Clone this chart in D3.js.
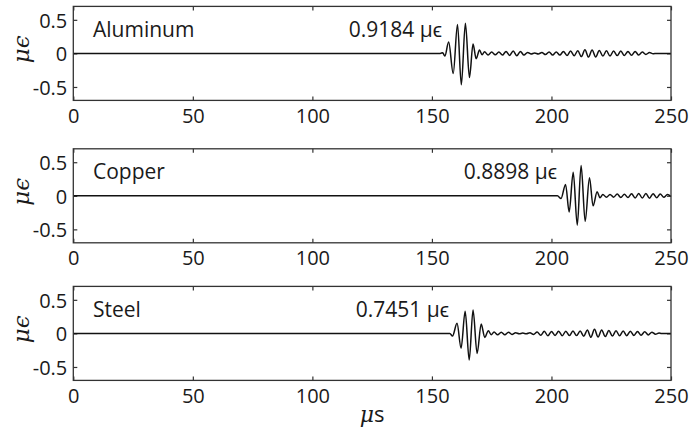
<!DOCTYPE html>
<html>
<head>
<meta charset="utf-8">
<script src="https://cdn.jsdelivr.net/npm/d3@7"></script>
<style>
  html, body { margin: 0; padding: 0; background: #fff; }
  svg { display: block; }
  .tick text { font-family: "Open Sans", sans-serif; font-size: 20px; fill: #1a1a1a; }
</style>
</head>
<body>
<svg id="chart" width="695" height="435"></svg>
<script>
// Axis ticks
const timeTicks = [0, 50, 100, 150, 200, 250];
const strainTicks = [-0.5, 0, 0.5];

// Panel names and measured peak-to-peak strain (µϵ)
const materials = ["Aluminum", "Copper", "Steel"];
const peakToPeak = [0.9184, 0.8898, 0.7451];

// Strain traces: [time µs, strain µϵ]
const aluminumTrace = [
  [0, 0], [153.5, 0], [154.5, 0.01], [155.4, -0.04], [157.0, 0.17], [158.9, -0.30],
  [160.7, 0.43], [162.3, -0.4684], [164.0, 0.45], [165.7, -0.36], [167.2, 0.14],
  [168.5, -0.08], [169.9, 0.05], [171.0, -0.02],
  [172.0, 0.025], [173.5, -0.025], [175.0, 0.02], [176.5, -0.02], [178.0, 0.02],
  [179.5, -0.025], [181.0, 0.03], [182.5, -0.03], [184.0, 0.035], [185.5, -0.035],
  [187.0, 0.03], [188.5, -0.025], [190.0, 0.015], [191.5, -0.008], [193.0, 0.006],
  [194.5, -0.008], [196.0, 0.012], [197.5, -0.018], [199.0, 0.022], [200.5, -0.025],
  [202.0, 0.022], [203.5, -0.025], [205.0, 0.03], [206.5, -0.032], [208.0, 0.035],
  [209.5, -0.035], [211.0, 0.04], [212.5, -0.048], [214.0, 0.055], [215.5, -0.055],
  [217.0, 0.05], [218.5, -0.052], [220.0, 0.045], [221.5, -0.04], [223.0, 0.038],
  [224.5, -0.04], [226.0, 0.036], [227.5, -0.033], [229.0, 0.035], [230.5, -0.032],
  [232.0, 0.03], [233.5, -0.028], [235.0, 0.03], [236.5, -0.025], [238.0, 0.02],
  [239.5, -0.015], [241.0, 0.012], [242.5, -0.006], [244, 0], [250, 0]
];

const copperTrace = [
  [0, 0], [202.5, 0], [204.0, -0.04], [205.9, 0.17], [207.4, -0.24], [209.1, 0.35],
  [210.8, -0.4378], [212.4, 0.452], [214.1, -0.38], [215.9, 0.27], [217.4, -0.15],
  [219.1, 0.06], [220.3, -0.03],
  [221.5, 0.02], [223.0, -0.022], [224.5, 0.02], [226.0, -0.02], [227.5, 0.025],
  [229.0, -0.025], [230.5, 0.022], [232.0, -0.025], [233.5, 0.03], [235.0, -0.033],
  [236.5, 0.035], [238.0, -0.033], [239.5, 0.035], [241.0, -0.035], [242.5, 0.032],
  [244.0, -0.03], [245.5, 0.028], [247.0, -0.022], [248.5, 0.018], [250, -0.01]
];

const steelTrace = [
  [0, 0], [157.5, 0], [158.6, -0.04], [160.5, 0.15], [162.2, -0.22], [163.9, 0.33],
  [165.6, -0.3951], [167.2, 0.35], [168.9, -0.30], [170.6, 0.14], [172.1, -0.06],
  [173.6, 0.04], [174.8, -0.02],
  [176.0, 0.02], [177.5, -0.02], [179.0, 0.018], [180.5, -0.02], [182.0, 0.018],
  [183.5, -0.015], [185.0, 0.01], [186.5, -0.006], [188.0, 0.005], [189.5, -0.006],
  [191.0, 0.01], [192.5, -0.015], [194.0, 0.022], [195.5, -0.028], [197.0, 0.032],
  [198.5, -0.035], [200.0, 0.03], [201.5, -0.03], [203.0, 0.033], [204.5, -0.035],
  [206.0, 0.032], [207.5, -0.033], [209.0, 0.035], [210.5, -0.032], [212.0, 0.035],
  [213.5, -0.042], [215.0, 0.05], [216.5, -0.058], [218.0, 0.06], [219.5, -0.055],
  [221.0, 0.05], [222.5, -0.048], [224.0, 0.042], [225.5, -0.04], [227.0, 0.04],
  [228.5, -0.036], [230.0, 0.035], [231.5, -0.034], [233.0, 0.032], [234.5, -0.032],
  [236.0, 0.03], [237.5, -0.028], [239.0, 0.025], [240.5, -0.022], [242.0, 0.018],
  [243.5, -0.012], [245.0, 0.006], [246, 0], [250, 0]
];

const traces = [aluminumTrace, copperTrace, steelTrace];

// Layout
const left = 73.3, right = 671, panelH = 94;
const panelTops = [6.4, 148.8, 286.4];
const valueLabelEnds = [442, 557, 449];

const svg = d3.select("#chart");
const x = d3.scaleLinear().domain([0, 250]).range([left, right]);

const fmtStrain = d => (d === 0 ? "0" : (d < 0 ? "-" : "") + Math.abs(d));

panelTops.forEach((top, i) => {
  const y = d3.scaleLinear().domain([-0.7, 0.7]).range([top + panelH, top]);
  const g = svg.append("g");

  // inward ticks on all four sides
  const axB = g.append("g").attr("transform", `translate(0,${top + panelH})`)
    .call(d3.axisBottom(x).tickValues(timeTicks).tickSize(-4).tickSizeOuter(0).tickPadding(8));
  const axT = g.append("g").attr("transform", `translate(0,${top})`)
    .call(d3.axisTop(x).tickValues(timeTicks).tickSize(-4).tickSizeOuter(0).tickFormat(""));
  const axL = g.append("g").attr("transform", `translate(${left},0)`)
    .call(d3.axisLeft(y).tickValues(strainTicks).tickSize(-4).tickSizeOuter(0).tickPadding(6).tickFormat(fmtStrain));
  const axR = g.append("g").attr("transform", `translate(${right},0)`)
    .call(d3.axisRight(y).tickValues(strainTicks).tickSize(-4).tickSizeOuter(0).tickFormat(""));
  [axB, axT, axL, axR].forEach(a => {
    a.select(".domain").remove();
    a.selectAll(".tick line").attr("stroke", "#333").attr("stroke-width", 1.2);
  });
  axB.selectAll(".tick text").attr("dy", "0.72em");
  axL.selectAll(".tick text").attr("dy", "0.36em");

  // strain trace
  const line = d3.line()
    .x(d => x(d[0]))
    .y(d => y(d[1]))
    .curve(d3.curveMonotoneX);
  g.append("path")
    .datum(traces[i])
    .attr("fill", "none")
    .attr("stroke", "#111")
    .attr("stroke-width", 1.5)
    .attr("stroke-linejoin", "round")
    .attr("d", line);

  // frame
  g.append("rect")
    .attr("x", left).attr("y", top)
    .attr("width", right - left).attr("height", panelH)
    .attr("fill", "none").attr("stroke", "#333").attr("stroke-width", 1.3);

  // material name
  g.append("text")
    .attr("x", 93).attr("y", top + 30.5)
    .attr("font-family", "'Open Sans', sans-serif").attr("font-size", 21)
    .attr("fill", "#1a1a1a")
    .text(materials[i]);

  // peak-to-peak value
  g.append("text")
    .attr("x", valueLabelEnds[i]).attr("y", top + 30.5)
    .attr("text-anchor", "end")
    .attr("font-family", "'Open Sans', sans-serif").attr("font-size", 21)
    .attr("fill", "#1a1a1a")
    .text(d3.format(".4f")(peakToPeak[i]) + " μϵ");

  // y-axis title
  g.append("text")
    .attr("transform", `translate(29,${top + panelH / 2 - 4}) rotate(-90)`)
    .attr("text-anchor", "middle")
    .attr("font-family", "'DejaVu Serif', serif").attr("font-style", "italic")
    .attr("font-size", 23).attr("fill", "#1a1a1a")
    .text("μϵ");
});

// x-axis title
const xt = svg.append("text")
  .attr("x", (left + right) / 2).attr("y", 422)
  .attr("text-anchor", "middle")
  .attr("font-family", "'Open Sans', sans-serif").attr("font-size", 22)
  .attr("fill", "#1a1a1a");
xt.append("tspan").attr("font-family", "'DejaVu Serif', serif").attr("font-style", "italic").text("μ");
xt.append("tspan").text("s");
</script>
</body>
</html>
